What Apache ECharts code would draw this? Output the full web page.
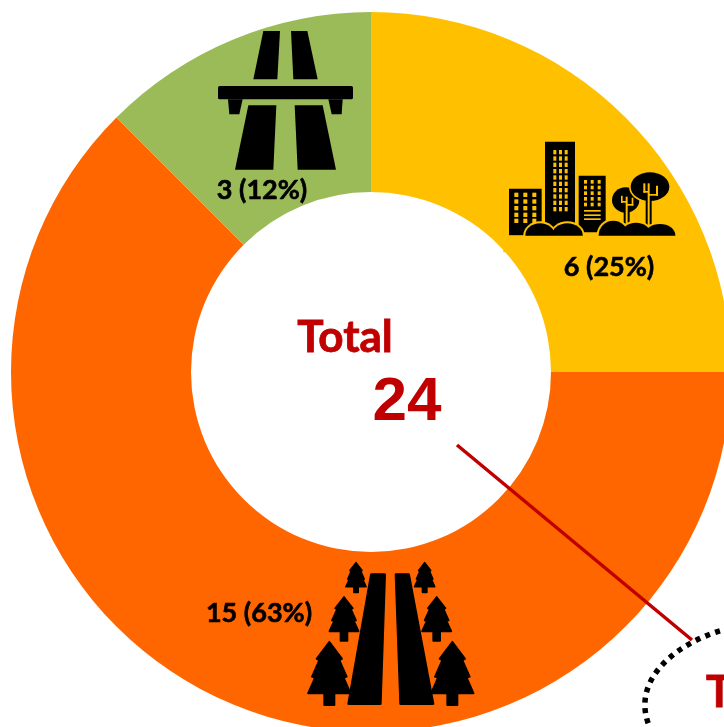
<!DOCTYPE html>
<html>
<head>
<meta charset="utf-8">
<style>
html, body { margin: 0; padding: 0; background: #fff; overflow: hidden; }
#main { width: 724px; height: 727px; }
</style>
<script src="https://cdn.jsdelivr.net/npm/echarts@6/dist/echarts.min.js"></script>
</head>
<body>
<div id="main"></div>
<script>
const categories = ["Urban", "Rural", "Motorway"];
const counts = [6, 15, 3];
const sliceColors = ["#FFC000", "#FF6600", "#9BBB59"];
const labelSpots = [[609, 267], [259, 613], [262, 190]];
const totalTitle = "Total";
const totalCount = 24;

const BLACK = "#000";
const RED = "#C00000";
const YELLOW = "#FFC000";

function poly(points, fill) {
  return { type: "polygon", shape: { points: points }, style: { fill: fill || BLACK } };
}
function box(x, y, width, height, fill, r) {
  return { type: "rect", shape: { x: x, y: y, width: width, height: height, r: r || 0 }, style: { fill: fill || BLACK } };
}
function blob(cx, cy, rx, ry, fill) {
  // flattened circle
  return {
    type: "circle", x: cx, y: cy, scaleX: rx / 100, scaleY: ry / 100,
    shape: { r: 100 },
    style: { fill: fill || BLACK }
  };
}

// drawn in the crop's own pixels, the group scales them down
function cityIcon() {
  const parts = [];
  parts.push(box(57, 176, 98, 140));
  parts.push(box(165, 35, 90, 270));
  parts.push(box(266, 137, 81, 170));
  [73, 100, 127].forEach(x => {
    [188, 208, 228, 248, 266].forEach(y => parts.push(box(x, y, 12, 13, YELLOW)));
  });
  [190, 207, 224].forEach(x => {
    [60, 79, 98, 117, 136, 155, 174, 193, 212, 231].forEach(y => parts.push(box(x, y, 9, 13, YELLOW)));
  });
  [282, 302, 323].forEach(x => {
    [150, 167, 184, 201, 218].forEach(y => parts.push(box(x, y, 9, 11, YELLOW)));
  });
  [240, 253, 265].forEach(y => parts.push(box(282, y, 50, 5, YELLOW)));
  // small tree
  parts.push(blob(407, 210, 41, 38));
  parts.push(box(401, 240, 18, 45));
  parts.push(box(407, 200, 6, 85, YELLOW));
  parts.push(box(393, 197, 5, 21, YELLOW));
  parts.push(box(393, 213, 17, 5, YELLOW));
  parts.push(box(425, 203, 5, 24, YELLOW));
  parts.push(box(410, 222, 20, 5, YELLOW));
  // big tree, with a halo where it passes over the small one
  parts.push(blob(480, 170, 63, 48, YELLOW));
  parts.push(blob(480, 170, 58, 43));
  parts.push(box(467, 205, 18, 85));
  parts.push(box(473, 160, 6, 130, YELLOW));
  parts.push(box(460, 160, 6, 28, YELLOW));
  parts.push(box(460, 183, 16, 5, YELLOW));
  parts.push(box(498, 167, 6, 30, YELLOW));
  parts.push(box(476, 192, 28, 5, YELLOW));
  // bushes in front of the buildings, yellow halo first
  const bushes = [[150, 316, 44, 36], [232, 316, 46, 36], [370, 316, 44, 44], [438, 316, 46, 38], [510, 316, 46, 34]];
  bushes.forEach(b => parts.push(blob(b[0], b[1], b[2] + 6, b[3] + 6, YELLOW)));
  bushes.forEach(b => parts.push(blob(b[0], b[1], b[2], b[3])));
  // hide the lower half of the bushes
  parts.push(box(40, 317, 530, 50, YELLOW));
  return parts;
}

function roadIcon() {
  return [
    poly([[190, 33], [240, 33], [232, 178], [160, 178]]),
    poly([[273, 33], [322, 33], [353, 178], [280, 178]]),
    box(54, 198, 405, 40, BLACK, 5),
    poly([[84, 238], [128, 238], [118, 283], [88, 283]]),
    poly([[385, 238], [428, 238], [425, 283], [395, 283]]),
    poly([[145, 256], [229, 256], [220, 449], [105, 449]]),
    poly([[284, 256], [368, 256], [408, 449], [293, 449]])
  ];
}

function fir(cx, top, base, hw, trunkW, trunkEnd) {
  const h = base - top;
  const prof = [[0, 0], [0.6, 0.33], [0.48, 0.36], [0.82, 0.68], [0.68, 0.7], [1, 1]];
  const right = prof.map(p => [cx + p[0] * hw, top + p[1] * h]);
  const left = prof.slice(1).reverse().map(p => [cx - p[0] * hw, top + p[1] * h]);
  return [
    box(cx - trunkW / 2, base - 2, trunkW, trunkEnd - base + 2, BLACK, 3),
    {
      type: "polygon", shape: { points: right.concat(left) },
      style: { fill: BLACK, stroke: BLACK, lineWidth: 5, lineJoin: "round" }
    }
  ];
}

function forestIcon() {
  const road = pts => ({
    type: "polygon", shape: { points: pts },
    style: { fill: BLACK, stroke: BLACK, lineWidth: 8, lineJoin: "round" }
  });
  return [].concat(
    fir(418, 275, 430, 64, 36, 468),
    fir(462, 141, 244, 44, 26, 275),
    fir(498, 38, 110, 30, 18, 130),
    fir(787, 275, 430, 64, 36, 468),
    fir(740, 141, 244, 44, 26, 275),
    fir(704, 38, 110, 30, 18, 130),
    [road([[544, 74], [584, 74], [571, 461], [476, 461]]), road([[618, 74], [656, 74], [729, 461], [632, 461]])]
  );
}

function iconGroup(x, y, children) {
  // z does not pass down from a group, so each child gets its own
  children.forEach(c => { c.z = 50; });
  return { type: "group", x: x, y: y, scaleX: 1 / 3, scaleY: 1 / 3, silent: true, children: children };
}

const chart = echarts.init(document.getElementById("main"), null, { renderer: "canvas" });
chart.setOption({
  animation: false,
  backgroundColor: "#fff",
  series: [
    {
      type: "pie",
      center: [371, 372],
      radius: [180, 360],
      startAngle: 90,
      percentPrecision: 0,
      z: 2,
      itemStyle: { borderWidth: 0 },
      label: {
        show: true,
        position: "inside",
        formatter: "{c} ({d}%)",
        color: "#000",
        fontFamily: "Lato",
        fontWeight: "bold",
        fontSize: 27,
        textBorderColor: "#000",
        textBorderWidth: 0.6
      },
      labelLine: { show: false },
      labelLayout: function (params) {
        const spot = labelSpots[params.dataIndex];
        return { x: spot[0], y: spot[1], align: "center", verticalAlign: "middle" };
      },
      data: categories.map((name, i) => ({
        name: name,
        value: counts[i],
        itemStyle: { color: sliceColors[i] }
      }))
    }
  ],
  graphic: [
    iconGroup(490, 130, cityIcon()),
    iconGroup(200, 20, roadIcon()),
    iconGroup(190, 550, forestIcon()),
    {
      type: "text", x: 345, y: 338, z: 60,
      style: {
        text: totalTitle, fill: RED, font: "bold 44px Lato",
        stroke: RED, lineWidth: 0.8,
        textAlign: "center", textVerticalAlign: "middle"
      }
    },
    {
      type: "text", x: 407, y: 403, z: 60,
      style: {
        text: String(totalCount), fill: RED, font: "bold 62px 'Liberation Sans'",
        textAlign: "center", textVerticalAlign: "middle"
      }
    },
    {
      type: "line", z: 55,
      shape: { x1: 457, y1: 445, x2: 692, y2: 640 },
      style: { stroke: RED, lineWidth: 3.5 }
    },
    {
      type: "bezierCurve", z: 56,
      shape: { x1: 730, y1: 628, cpx1: 680, cpy1: 640, cpx2: 625, cpy2: 680, x2: 652, y2: 732 },
      style: { stroke: BLACK, fill: null, lineWidth: 5.5, lineDash: [5, 5.5] }
    },
    {
      type: "text", x: 706, y: 693, z: 60,
      style: {
        text: "T", fill: RED, font: "bold 44px Lato",
        stroke: RED, lineWidth: 0.8,
        textAlign: "left", textVerticalAlign: "middle"
      }
    }
  ]
});
</script>
</body>
</html>
